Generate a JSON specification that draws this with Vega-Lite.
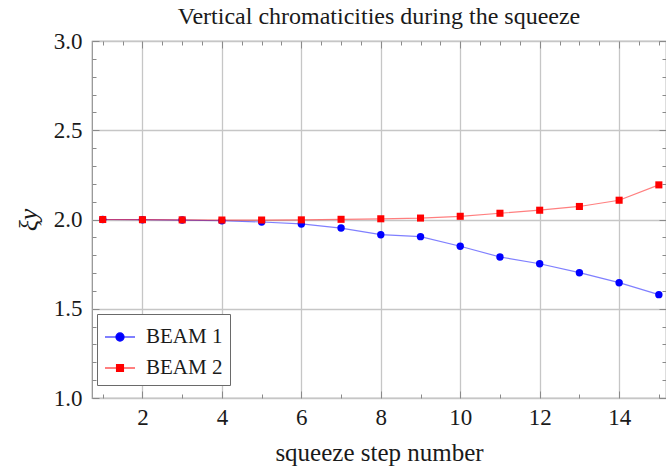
{
  "$schema": "https://vega.github.io/schema/vega-lite/v6.json",
  "width": 574,
  "height": 357,
  "autosize": {"type": "none"},
  "padding": {"left": 92, "top": 41, "right": 0, "bottom": 71},
  "background": "white",
  "title": {
    "text": "Vertical chromaticities during the squeeze",
    "font": "Liberation Serif",
    "fontSize": 24,
    "fontWeight": "normal",
    "color": "#1a1a1a",
    "anchor": "middle",
    "baseline": "alphabetic",
    "offset": -18
  },
  "config": {
    "view": {"stroke": "#8f8f8f", "strokeWidth": 1.2},
    "axis": {
      "domain": false,
      "tickColor": "#8a8a8a",
      "tickWidth": 1,
      "tickSize": -7,
      "gridColor": "#c6c6c6",
      "gridWidth": 1.3,
      "labelFont": "Liberation Serif",
      "labelFontSize": 23,
      "labelColor": "#1a1a1a",
      "titleFont": "Liberation Serif",
      "titleFontSize": 25,
      "titleFontWeight": "normal",
      "titleColor": "#1a1a1a"
    }
  },
  "data": {
    "values": [
      {"step": 1, "beam": "BEAM 1", "xi": 2.0},
      {"step": 2, "beam": "BEAM 1", "xi": 1.999},
      {"step": 3, "beam": "BEAM 1", "xi": 1.997},
      {"step": 4, "beam": "BEAM 1", "xi": 1.993},
      {"step": 5, "beam": "BEAM 1", "xi": 1.986},
      {"step": 6, "beam": "BEAM 1", "xi": 1.975},
      {"step": 7, "beam": "BEAM 1", "xi": 1.952},
      {"step": 8, "beam": "BEAM 1", "xi": 1.915},
      {"step": 9, "beam": "BEAM 1", "xi": 1.904},
      {"step": 10, "beam": "BEAM 1", "xi": 1.85},
      {"step": 11, "beam": "BEAM 1", "xi": 1.79},
      {"step": 12, "beam": "BEAM 1", "xi": 1.752},
      {"step": 13, "beam": "BEAM 1", "xi": 1.702},
      {"step": 14, "beam": "BEAM 1", "xi": 1.646},
      {"step": 15, "beam": "BEAM 1", "xi": 1.579},
      {"step": 1, "beam": "BEAM 2", "xi": 2.0},
      {"step": 2, "beam": "BEAM 2", "xi": 1.999},
      {"step": 3, "beam": "BEAM 2", "xi": 1.998},
      {"step": 4, "beam": "BEAM 2", "xi": 1.997},
      {"step": 5, "beam": "BEAM 2", "xi": 1.997},
      {"step": 6, "beam": "BEAM 2", "xi": 1.998},
      {"step": 7, "beam": "BEAM 2", "xi": 2.001},
      {"step": 8, "beam": "BEAM 2", "xi": 2.004},
      {"step": 9, "beam": "BEAM 2", "xi": 2.008},
      {"step": 10, "beam": "BEAM 2", "xi": 2.018},
      {"step": 11, "beam": "BEAM 2", "xi": 2.035},
      {"step": 12, "beam": "BEAM 2", "xi": 2.052},
      {"step": 13, "beam": "BEAM 2", "xi": 2.073},
      {"step": 14, "beam": "BEAM 2", "xi": 2.108},
      {"step": 15, "beam": "BEAM 2", "xi": 2.194}
    ]
  },
  "resolve": {"axis": {"x": "independent", "y": "independent"}},
  "layer": [
    {
      "mark": {"type": "line", "strokeWidth": 1.2, "strokeOpacity": 0.5},
      "encoding": {
        "x": {
          "field": "step", "type": "quantitative",
          "scale": {"domain": [0.73, 15.18], "nice": false, "zero": false},
          "axis": {
            "orient": "bottom",
            "title": "squeeze step number",
            "titlePadding": 11,
            "values": [1,1.5,2,2.5,3,3.5,4,4.5,5,5.5,6,6.5,7,7.5,8,8.5,9,9.5,10,10.5,11,11.5,12,12.5,13,13.5,14,14.5,15],
            "labelExpr": "datum.value % 2 == 0 ? datum.label : ''",
            "format": "d",
            "labelPadding": 15,
            "tickDash": {"condition": {"test": "datum.value % 2 == 0", "value": [10, 0]}, "value": [4, 30]},
            "gridOpacity": {"condition": {"test": "datum.value % 2 == 0", "value": 1}, "value": 0}
          }
        },
        "y": {
          "field": "xi", "type": "quantitative",
          "scale": {"domain": [1, 3], "nice": false, "zero": false},
          "axis": {
            "orient": "left",
            "title": "ξy",
            "titleFontStyle": "italic",
            "titleFontSize": 26,
            "titlePadding": 12,
            "values": [1,1.1,1.2,1.3,1.4,1.5,1.6,1.7,1.8,1.9,2,2.1,2.2,2.3,2.4,2.5,2.6,2.7,2.8,2.9,3],
            "labelExpr": "abs(datum.value*2 - round(datum.value*2)) < 0.01 ? datum.label : ''",
            "format": ".1f",
            "labelPadding": 17,
            "tickDash": {"condition": {"test": "abs(datum.value*2 - round(datum.value*2)) < 0.01", "value": [10, 0]}, "value": [4, 30]},
            "gridOpacity": {"condition": {"test": "abs(datum.value*2 - round(datum.value*2)) < 0.01", "value": 1}, "value": 0}
          }
        },
        "color": {
          "field": "beam", "type": "nominal",
          "scale": {"domain": ["BEAM 1", "BEAM 2"], "range": ["#0000ff", "#ff0000"]},
          "legend": {
            "title": null,
            "orient": "none",
            "legendX": 5,
            "legendY": 273,
            "strokeColor": "#6a6a6a",
            "fillColor": "white",
            "padding": 7,
            "rowPadding": 5,
            "labelFont": "Liberation Serif",
            "labelFontSize": 21,
            "labelColor": "#1a1a1a",
            "labelOffset": 10,
            "symbolSize": 900,
            "symbolStrokeWidth": 1.2,
            "symbolType": {"expr": "datum.value == 'BEAM 1' ? 'M-1,0H1M-0.27,0A0.27,0.27,0,1,1,0.27,0A0.27,0.27,0,1,1,-0.27,0Z' : 'M-1,0H1M-0.23,-0.23H0.23V0.23H-0.23Z'"},
            "symbolStrokeColor": {"expr": "datum.value == 'BEAM 1' ? '#7a7aff' : '#ff8a8a'"},
            "symbolFillColor": {"expr": "datum.value == 'BEAM 1' ? '#0000ff' : '#ff0000'"}
          }
        }
      }
    },
    {
      "transform": [{"filter": "datum.beam == 'BEAM 1'"}],
      "mark": {"type": "point", "filled": true, "shape": "circle", "size": 55, "opacity": 1},
      "encoding": {
        "x": {
          "field": "step", "type": "quantitative",
          "axis": {
            "orient": "top", "title": null, "labels": false, "grid": false,
            "values": [1,1.5,2,2.5,3,3.5,4,4.5,5,5.5,6,6.5,7,7.5,8,8.5,9,9.5,10,10.5,11,11.5,12,12.5,13,13.5,14,14.5,15],
            "tickDash": {"condition": {"test": "datum.value % 2 == 0", "value": [10, 0]}, "value": [4, 30]}
          }
        },
        "y": {
          "field": "xi", "type": "quantitative",
          "axis": {
            "orient": "right", "title": null, "labels": false, "grid": false,
            "values": [1,1.1,1.2,1.3,1.4,1.5,1.6,1.7,1.8,1.9,2,2.1,2.2,2.3,2.4,2.5,2.6,2.7,2.8,2.9,3],
            "tickDash": {"condition": {"test": "abs(datum.value*2 - round(datum.value*2)) < 0.01", "value": [10, 0]}, "value": [4, 30]}
          }
        },
        "color": {"field": "beam", "type": "nominal"}
      }
    },
    {
      "transform": [{"filter": "datum.beam == 'BEAM 2'"}],
      "mark": {"type": "point", "filled": true, "shape": "square", "size": 50, "opacity": 1},
      "encoding": {
        "x": {"field": "step", "type": "quantitative", "axis": null},
        "y": {"field": "xi", "type": "quantitative", "axis": null},
        "color": {"field": "beam", "type": "nominal"}
      }
    }
  ]
}
